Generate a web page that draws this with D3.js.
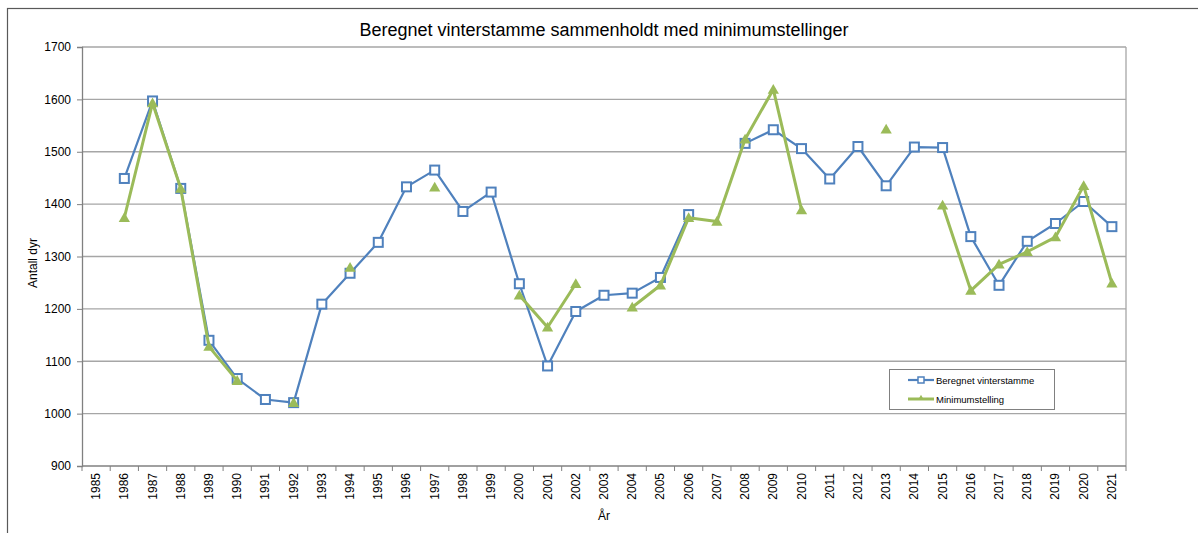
<!DOCTYPE html>
<html>
<head>
<meta charset="utf-8">
<script src="https://cdn.jsdelivr.net/npm/d3@7"></script>
<style>
  body { margin: 0; background: #fff; }
  text { font-family: "Liberation Sans", Arial, sans-serif; fill: #000; }
</style>
</head>
<body>
<div id="chart"></div>
<script>
var years = d3.range(1985, 2022);

// Beregnet vinterstamme (null = no value)
var beregnet = [null, 1449, 1597, 1430, 1140, 1067, 1027, 1021, 1209, 1268,
  1327, 1433, 1465, 1386, 1423, 1248, 1091, 1195, 1226, 1230,
  1260, 1380, null, 1516, 1542, 1506, 1448, 1510, 1435, 1509,
  1508, 1338, 1245, 1329, 1363, 1405, 1357];

// Minimumstelling
var minimum = [null, 1374, 1593, 1430, 1128, 1063, null, 1021, null, 1279,
  null, null, 1432, null, null, 1226, 1165, 1248, null, 1203,
  1245, 1374, 1367, 1524, 1619, 1389, null, null, 1543, null,
  1398, 1235, 1285, 1309, 1337, 1435, 1249];

var yTicks = [900, 1000, 1100, 1200, 1300, 1400, 1500, 1600, 1700];

var svgWidth = 1198, svgHeight = 533;
var margin = { top: 47, right: 72, bottom: 67, left: 82 };
var width = svgWidth - margin.left - margin.right;
var height = svgHeight - margin.top - margin.bottom;

var blue = "#4f81bd", green = "#9bbb59";

var svg = d3.select("#chart").append("svg")
  .attr("width", svgWidth)
  .attr("height", svgHeight);

// outer chart frame (cut by window)
svg.append("rect")
  .attr("x", 7.5).attr("y", 8.5)
  .attr("width", 1300).attr("height", 600)
  .attr("fill", "none")
  .attr("stroke", "#595959")
  .attr("stroke-width", 1.2);

svg.append("text")
  .attr("x", 604).attr("y", 36)
  .attr("text-anchor", "middle")
  .attr("font-size", "18px")
  .text("Beregnet vinterstamme sammenholdt med minimumstellinger");

var chartGroup = svg.append("g")
  .attr("transform", `translate(${margin.left}, ${margin.top})`);

var xBand = d3.scaleBand()
  .domain(years)
  .range([0, width]);

var yLinearScale = d3.scaleLinear()
  .domain([900, 1700])
  .range([height, 0]);

var xc = d => xBand(d) + xBand.bandwidth() / 2;

// grid
chartGroup.append("g")
  .selectAll("line")
  .data(yTicks.slice(1))
  .enter()
  .append("line")
  .attr("x1", 0).attr("x2", width)
  .attr("y1", d => yLinearScale(d)).attr("y2", d => yLinearScale(d))
  .attr("stroke", "#a6a6a6")
  .attr("stroke-width", 1.3);

// right border of plot area
chartGroup.append("line")
  .attr("x1", width).attr("x2", width)
  .attr("y1", 0).attr("y2", height)
  .attr("stroke", "#a6a6a6")
  .attr("stroke-width", 1.3);

// y axis
var leftAxis = d3.axisLeft(yLinearScale)
  .tickValues(yTicks)
  .tickSize(5)
  .tickPadding(6)
  .tickFormat(d3.format("d"));

var yAxis = chartGroup.append("g").call(leftAxis);
yAxis.select(".domain").attr("stroke", "#808080").attr("stroke-width", 1.3);
yAxis.selectAll(".tick line").attr("stroke", "#808080");
yAxis.selectAll("text").attr("font-size", "12px")
  .style("font-family", "Liberation Sans, Arial, sans-serif").attr("fill", "#000");

// x axis: ticks between categories
var xAxis = chartGroup.append("g")
  .attr("transform", `translate(0, ${height})`);

xAxis.append("line")
  .attr("x1", 0).attr("x2", width)
  .attr("y1", 0).attr("y2", 0)
  .attr("stroke", "#808080").attr("stroke-width", 1.3);

xAxis.selectAll(".xtick")
  .data(years.concat([2022]))
  .enter()
  .append("line")
  .attr("class", "xtick")
  .attr("x1", d => d === 2022 ? width : xBand(d))
  .attr("x2", d => d === 2022 ? width : xBand(d))
  .attr("y1", 0).attr("y2", 5)
  .attr("stroke", "#808080");

xAxis.selectAll(".xlabel")
  .data(years)
  .enter()
  .append("text")
  .attr("class", "xlabel")
  .attr("transform", d => `translate(${xc(d) + 4}, 7) rotate(-90)`)
  .attr("text-anchor", "end")
  .attr("font-size", "12px")
  .text(d => d);

svg.append("text")
  .attr("x", 604).attr("y", 520)
  .attr("text-anchor", "middle")
  .attr("font-size", "12px")
  .text("År");

svg.append("text")
  .attr("transform", "translate(37, 263) rotate(-90)")
  .attr("text-anchor", "middle")
  .attr("font-size", "12px")
  .text("Antall dyr");

// series
var lineGen = d3.line()
  .defined(d => d.v !== null)
  .x(d => xc(d.year))
  .y(d => yLinearScale(d.v));

var blueData = years.map((y, i) => ({ year: y, v: beregnet[i] }));
var greenData = years.map((y, i) => ({ year: y, v: minimum[i] }));

chartGroup.append("path")
  .datum(blueData)
  .attr("d", lineGen)
  .attr("fill", "none")
  .attr("stroke", blue)
  .attr("stroke-width", 2.2)
  .attr("stroke-linejoin", "round");

chartGroup.selectAll(".sq")
  .data(blueData.filter(d => d.v !== null))
  .enter()
  .append("rect")
  .attr("class", "sq")
  .attr("x", d => xc(d.year) - 4.5)
  .attr("y", d => yLinearScale(d.v) - 4.5)
  .attr("width", 9).attr("height", 9)
  .attr("fill", "#fff")
  .attr("stroke", blue)
  .attr("stroke-width", 2);

chartGroup.append("path")
  .datum(greenData)
  .attr("d", lineGen)
  .attr("fill", "none")
  .attr("stroke", green)
  .attr("stroke-width", 3)
  .attr("stroke-linejoin", "round");

var tri = d3.symbol().type(d3.symbolTriangle).size(55);

chartGroup.selectAll(".tri")
  .data(greenData.filter(d => d.v !== null))
  .enter()
  .append("path")
  .attr("class", "tri")
  .attr("d", tri)
  .attr("transform", d => `translate(${xc(d.year)}, ${yLinearScale(d.v) + 1})`)
  .attr("fill", green);

// legend
var legend = svg.append("g").attr("transform", "translate(889, 369)");
legend.append("rect")
  .attr("x", 0.5).attr("y", 0.5)
  .attr("width", 165).attr("height", 40)
  .attr("fill", "#fff")
  .attr("stroke", "#808080");

legend.append("line")
  .attr("x1", 19).attr("x2", 45).attr("y1", 11).attr("y2", 11)
  .attr("stroke", blue).attr("stroke-width", 2.2);
legend.append("rect")
  .attr("x", 29).attr("y", 8).attr("width", 6).attr("height", 6)
  .attr("fill", "#fff").attr("stroke", blue).attr("stroke-width", 1.5);
legend.append("text")
  .attr("x", 47).attr("y", 14.5)
  .attr("font-size", "9.5px")
  .text("Beregnet vinterstamme");

legend.append("line")
  .attr("x1", 19).attr("x2", 45).attr("y1", 30).attr("y2", 30)
  .attr("stroke", green).attr("stroke-width", 3);
legend.append("path")
  .attr("d", d3.symbol().type(d3.symbolTriangle).size(14))
  .attr("transform", "translate(32, 29)")
  .attr("fill", green);
legend.append("text")
  .attr("x", 47).attr("y", 33.5)
  .attr("font-size", "9.5px")
  .text("Minimumstelling");
</script>
</body>
</html>
